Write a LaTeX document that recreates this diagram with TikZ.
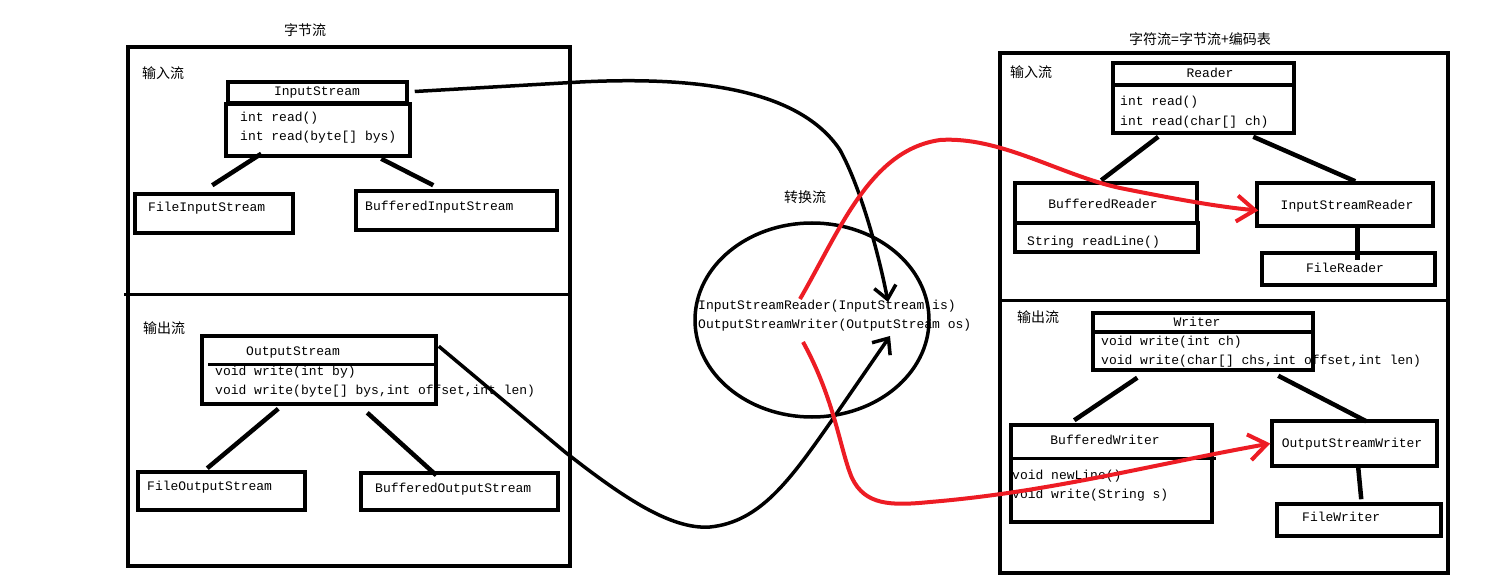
\documentclass[tikz,border=0pt]{standalone}
\usepackage{fontspec}
\setmonofont{Liberation Mono}
\newfontfamily\cjk{Noto Sans CJK SC}
\usetikzlibrary{fit,arrows.meta,calc,shapes.geometric}
\definecolor{pred}{RGB}{237,28,36}
\begin{document}
\begin{tikzpicture}[x=1pt,y=-1pt,
  frame/.style={draw,line width=3.5pt,inner sep=0pt,fit={#1}},
  box/.style={draw,line width=3.5pt,inner sep=0pt,fit={#1}},
  conn/.style={line width=4.5pt},
  sep/.style={line width=3.5pt},
  curve/.style={line width=3.5pt,-{Straight Barb[length=13pt,width=22pt]}},
  rcurve/.style={line width=4pt,draw=pred,-{Straight Barb[length=18pt,width=26pt]}},
  mono/.style={font=\ttfamily\fontsize{13}{15}\selectfont,inner sep=0pt,text height=9pt,text depth=2.5pt},
  zh/.style={font=\cjk\fontsize{14}{16}\selectfont,inner sep=0pt}]
\useasboundingbox[fill=white] (0,0) rectangle (1486,580);

% ---------- titles ----------
\node[zh] (t1) at (305,30) {字节流};
\node[zh] (t2) at (1200,39) {字符流=字节流+编码表};
\node[zh] (t3) at (805,197) {转换流};
\node[zh,anchor=west] (l1) at (142,73) {输入流};
\node[zh,anchor=west] (l2) at (143,328) {输出流};
\node[zh,anchor=west] (l3) at (1010,72) {输入流};
\node[zh,anchor=west] (l4) at (1017,317) {输出流};

% ---------- texts ----------
\node[mono] (tis) at (317,92) {InputStream};
\node[mono,anchor=west] (tis1) at (240,118) {int read()};
\node[mono,anchor=west] (tis2) at (240,137) {int read(byte[] bys)};
\node[mono,anchor=west] (tfis) at (148,208) {FileInputStream};
\node[mono,anchor=west] (tbis) at (365,207) {BufferedInputStream};
\node[mono,anchor=west] (tos) at (246,352) {OutputStream};
\node[mono,anchor=west] (tos1) at (215,372) {void write(int by)};
\node[mono,anchor=west] (tos2) at (215,391) {void write(byte[] bys,int offset,int len)};
\node[mono,anchor=west] (tfos) at (147,487) {FileOutputStream};
\node[mono,anchor=west] (tbos) at (375,489) {BufferedOutputStream};
\node[mono,anchor=west] (tc1) at (698,306) {InputStreamReader(InputStream is)};
\node[mono,anchor=west] (tc2) at (698,325) {OutputStreamWriter(OutputStream os)};
\node[mono] (trd) at (1210,74) {Reader};
\node[mono,anchor=west] (trd1) at (1120,102) {int read()};
\node[mono,anchor=west] (trd2) at (1120,122) {int read(char[] ch)};
\node[mono] (tbr) at (1103,205) {BufferedReader};
\node[mono,anchor=west] (tbr1) at (1027,242) {String readLine()};
\node[mono] (tisr) at (1347,206) {InputStreamReader};
\node[mono] (tfr) at (1345,269) {FileReader};
\node[mono] (twr) at (1197,323) {Writer};
\node[mono,anchor=west] (twr1) at (1101,342) {void write(int ch)};
\node[mono,anchor=west] (twr2) at (1101,361) {void write(char[] chs,int offset,int len)};
\node[mono] (tbw) at (1105,441) {BufferedWriter};
\node[mono,anchor=west] (tbw1) at (1012,476) {void newLine()};
\node[mono,anchor=west] (tbw2) at (1012,495) {void write(String s)};
\node[mono] (tosw) at (1352,444) {OutputStreamWriter};
\node[mono,anchor=west] (tfw) at (1302,518) {FileWriter};

% ---------- frames ----------
\node[frame={(128,47) (570,566)}] (left) {};
\draw[sep] ([xshift=-2pt,yshift=-249pt]left.north west) -- ([yshift=-249pt]left.north east);
\node[frame={(1000,53) (1448,573)}] (right) {};
\draw[sep] ([yshift=-249pt]right.north west) -- ([yshift=-249pt]right.north east);

% ---------- boxes ----------
\node[box={(228,82) (407,103)}] (ish) {};
\node[box={(226,104) (410,156)}] (isb) {};
\node[box={(135,194) (293,233)}] (fis) {};
\node[box={(356,191) (557,230)}] (bis) {};
\node[box={(202,336) (436,404)}] (osb) {};
\draw[sep] ([xshift=8pt,yshift=-30pt]osb.north west) -- ([xshift=-4pt,yshift=-30pt]osb.north east);
\node[box={(138,472) (305,510)}] (fos) {};
\node[box={(361,473) (558,510)}] (bos) {};

\node[draw,ellipse,line width=3.5pt,minimum width=234pt,minimum height=194pt,inner sep=0pt] (conv) at (812,320) {};

\node[box={(1113,63) (1294,85)}] (rdh) {};
\node[box={(1113,85) (1294,133)}] (rdb) {};
\node[box={(1015,183) (1197,223)}] (br) {};
\node[box={(1015,223) (1198,252)}] (brl) {};
\node[box={(1257,183) (1433,226)}] (isr) {};
\node[box={(1262,253) (1435,285)}] (fr) {};
\node[box={(1093,313) (1313,332)}] (wrh) {};
\node[box={(1093,332) (1313,370)}] (wrb) {};
\node[box={(1011,425) (1212,522)}] (bw) {};
\draw[sep] ([yshift=-35pt]bw.north west) -- ([xshift=2pt,yshift=-35pt]bw.north east);
\node[box={(1272,421) (1437,466)}] (osw) {};
\node[box={(1277,504) (1441,536)}] (fw) {};

% ---------- connectors ----------
\draw[conn] ([xshift=37pt,yshift=4pt]isb.south west) -- ([xshift=79pt,yshift=7pt]fis.north west);
\draw[conn] ([xshift=157pt,yshift=-1pt]isb.south west) -- ([xshift=79pt,yshift=4pt]bis.north west);
\draw[conn] ([xshift=78pt,yshift=-3pt]osb.south west) -- ([xshift=71pt,yshift=2pt]fos.north west);
\draw[conn] ([xshift=167pt,yshift=-7pt]osb.south west) -- ([xshift=77pt,yshift=-4pt]bos.north west);
\draw[conn] ([xshift=47pt,yshift=-2pt]rdb.south west) -- ([xshift=88pt,yshift=1pt]br.north west);
\draw[conn] ([xshift=142pt,yshift=-2pt]rdb.south west) -- ([xshift=100pt]isr.north west);
\draw[conn] ([xshift=102pt]isr.south west) -- ([xshift=97pt,yshift=-9pt]fr.north west);
\draw[conn] ([xshift=46pt,yshift=-6pt]wrb.south west) -- ([xshift=65pt,yshift=3pt]bw.north west);
\draw[conn] ([xshift=187pt,yshift=-4pt]wrb.south west) -- ([xshift=96pt,yshift=-2pt]osw.north west);
\draw[conn] ([xshift=88pt]osw.south west) -- ([xshift=86pt,yshift=3pt]fw.north west);

% ---------- curves ----------
\coordinate (tip1) at (888,302);
\coordinate (tip2) at (890,336);
\coordinate (rs1) at (800,299);
\coordinate (rs2) at (803,342);
\draw[curve] ([xshift=6pt,yshift=1pt]ish.east) -- (580,82)
  .. controls (700,76) and (800,90) .. (840,150)
  .. controls (862,190) and (880,260) .. (tip1);
\draw[curve] ([xshift=1pt,yshift=-12pt]osb.north east) -- (565,452)
  .. controls (620,495) and (670,530) .. (710,527)
  .. controls (760,522) and (790,480) .. (830,423) -- (tip2);
\draw[rcurve] (rs1) .. controls (840,230) and (870,150) .. (940,140)
  .. controls (1000,136) and (1060,175) .. (1120,188)
  .. controls (1180,200) and (1220,207) .. ([xshift=3pt,yshift=-6pt]isr.west);
\draw[rcurve] (rs2) .. controls (835,400) and (840,450) .. (852,478)
  .. controls (865,505) and (890,506) .. (930,502)
  .. controls (1050,492) and (1150,465) .. (osw.west);
\end{tikzpicture}
\end{document}
